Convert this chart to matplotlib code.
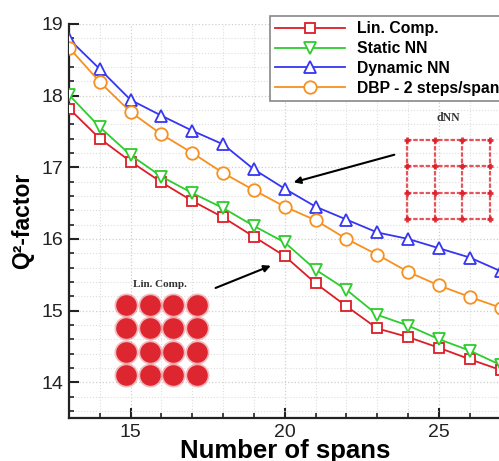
import matplotlib
matplotlib.use("Agg")
import matplotlib.pyplot as plt
from matplotlib.ticker import MultipleLocator

# --- data ---
spans = [13, 14, 15, 16, 17, 18, 19, 20, 21, 22, 23, 24, 25, 26, 27]
lin_comp = [17.82, 17.40, 17.08, 16.79, 16.53, 16.30, 16.03, 15.76, 15.38, 15.06,
            14.75, 14.63, 14.48, 14.32, 14.17]
static_nn = [18.01, 17.56, 17.17, 16.87, 16.64, 16.43, 16.18, 15.95, 15.57, 15.29,
             14.94, 14.79, 14.60, 14.44, 14.24]
dynamic_nn = [18.79, 18.37, 17.94, 17.72, 17.51, 17.32, 16.97, 16.70, 16.45, 16.27,
              16.09, 16.00, 15.87, 15.74, 15.55]
dbp = [18.67, 18.19, 17.77, 17.46, 17.20, 16.92, 16.68, 16.45, 16.26, 16.00,
       15.78, 15.54, 15.35, 15.19, 15.04]

labels = ["Lin. Comp.", "Static NN", "Dynamic NN", "DBP - 2 steps/span"]

# constellation sketches (16-QAM grid positions)
qam_levels = [-3, -1, 1, 3]
dnn_levels = [0, 1, 2, 3]

RED = "#dc1e28"
GREEN = "#2ecc2e"
BLUE = "#3636f2"
ORANGE = "#f7901e"

W, H = 499, 461
fig = plt.figure(figsize=(W / 100, H / 100), dpi=100)
fig.patch.set_facecolor("white")

x0, x1 = 13, 28
px_per_x = 30.83
ax = fig.add_axes([69 / W, 43 / H, (x1 - x0) * px_per_x / W, 394 / H])

ax.plot(spans, lin_comp, color=RED, marker="s", ms=7, mfc="white", mew=1.3, lw=1.3,
        label=labels[0], zorder=3)
ax.plot(spans, static_nn, color=GREEN, marker="v", ms=8, mfc="white", mew=1.3, lw=1.3,
        label=labels[1], zorder=3)
ax.plot(spans, dynamic_nn, color=BLUE, marker="^", ms=8, mfc="white", mew=1.3, lw=1.3,
        label=labels[2], zorder=3)
ax.plot(spans, dbp, color=ORANGE, marker="o", ms=9, mfc="white", mew=1.3, lw=1.3,
        label=labels[3], zorder=3)

ax.set_xlim(x0, x1)
ax.set_ylim(13.5, 19)
ax.xaxis.set_major_locator(MultipleLocator(5))
ax.xaxis.set_minor_locator(MultipleLocator(1))
ax.yaxis.set_major_locator(MultipleLocator(1))
ax.yaxis.set_minor_locator(MultipleLocator(0.2))
ax.tick_params(which="major", direction="in", length=7, width=1.5, labelsize=14,
               pad=4, colors="#222222")
ax.tick_params(which="minor", direction="in", length=3.5, width=1.2, colors="#222222")
ax.grid(which="major", color="#cfcfcf", ls=":", lw=0.9)
ax.grid(which="minor", color="#dedede", ls=":", lw=0.8)
ax.set_axisbelow(True)
for s in ("top", "right"):
    ax.spines[s].set_visible(False)
for s in ("left", "bottom"):
    ax.spines[s].set_linewidth(1.6)
    ax.spines[s].set_color("#222222")

for t in ax.get_xticklabels() + ax.get_yticklabels():
    t.set_family("Liberation Sans")

ax.set_xlabel("Number of spans", fontsize=18.5, fontweight="bold", family="Liberation Sans")
ax.xaxis.set_label_coords((20 - x0) / (x1 - x0), -21 / 394)
ax.set_ylabel("Q²-factor", fontsize=16.5, fontweight="bold", family="Liberation Sans")
ax.yaxis.set_label_coords(-(69 - 34) / ((x1 - x0) * px_per_x), 0.5)

leg = ax.legend(loc="upper left", bbox_to_anchor=(270 / W, 1 - 16 / H),
                bbox_transform=fig.transFigure, prop={"family": "Liberation Sans",
                                                      "weight": "bold", "size": 11.3},
                handlelength=4.4, handletextpad=0.8, labelspacing=0.3,
                borderpad=0.35, borderaxespad=0, fancybox=False, framealpha=1)
leg.get_frame().set_edgecolor("#888888")
leg.get_frame().set_linewidth(1.2)

# --- Lin. Comp. constellation inset ---
ins1 = fig.add_axes([113 / W, 73 / H, 97 / W, 96 / H])
gx = [x for x in qam_levels for _ in qam_levels]
gy = [y for _ in qam_levels for y in qam_levels]
ins1.scatter(gx, gy, s=300, color=RED, alpha=0.3, lw=0)
ins1.scatter(gx, gy, s=220, color=RED, alpha=0.95, lw=0)
ins1.set_xlim(-4.1, 4.1)
ins1.set_ylim(-4.1, 4.1)
ins1.axis("off")
fig.text(160 / W, 1 - 284 / H, "Lin. Comp.", ha="center", va="center",
         fontsize=8, fontweight="bold", family="Liberation Serif", color="#333333")

# --- dNN constellation inset ---
ins2 = fig.add_axes([404 / W, 239 / H, 89 / W, 85 / H])
for v in dnn_levels:
    ins2.plot([dnn_levels[0], dnn_levels[-1]], [v, v], color=RED, lw=1.6, alpha=0.75,
              ls=(0, (2, 0.8)))
    ins2.plot([v, v], [dnn_levels[0], dnn_levels[-1]], color=RED, lw=1.6, alpha=0.75,
              ls=(0, (2, 0.8)))
hx = [x for x in dnn_levels for _ in dnn_levels]
hy = [y for _ in dnn_levels for y in dnn_levels]
ins2.scatter(hx, hy, s=25, marker="+", color=RED, lw=2.0, alpha=0.9)
ins2.set_xlim(-0.1, 3.1)
ins2.set_ylim(-0.1, 3.1)
ins2.axis("off")
fig.text(448 / W, 1 - 118 / H, "dNN", ha="center", va="center",
         fontsize=8.5, fontweight="bold", family="Liberation Serif", color="#333333")

# --- arrows ---
arrow = dict(arrowstyle="-|>", color="black", lw=1.5, mutation_scale=10)
ax.annotate("", xy=(20.2, 16.78), xycoords="data",
            xytext=(397, H - 154), textcoords="figure pixels", arrowprops=arrow)
ax.annotate("", xy=(19.63, 15.64), xycoords="data",
            xytext=(213, H - 289), textcoords="figure pixels", arrowprops=arrow)

fig.savefig("out.png", dpi=100)
